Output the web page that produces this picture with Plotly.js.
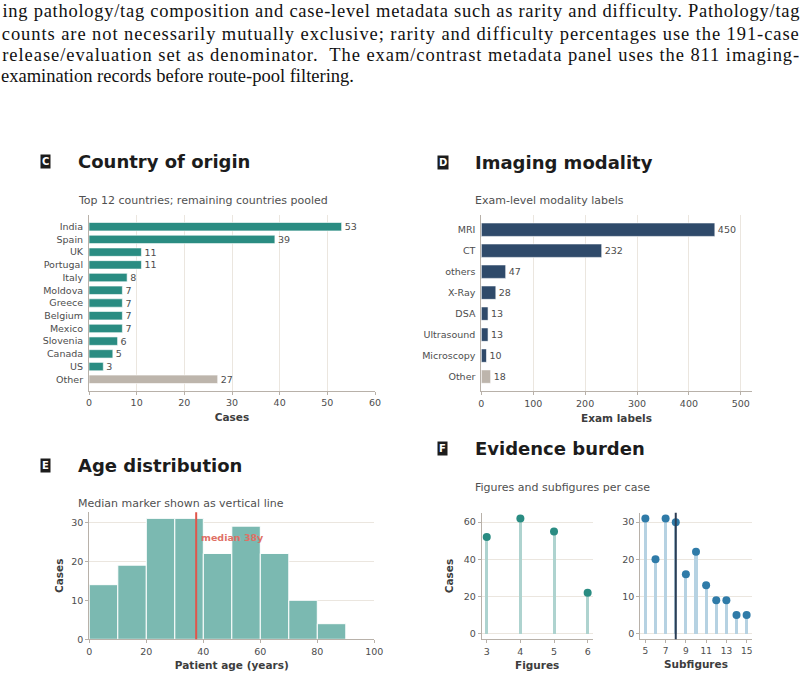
<!DOCTYPE html>
<html>
<head>
<meta charset="utf-8">
<script src="https://cdn.plot.ly/plotly-3.0.1.min.js"></script>
<style>
  html, body { margin: 0; padding: 0; background: #ffffff; }
  #fig { width: 807px; height: 676px; }
</style>
</head>
<body>
<div id="fig"></div>
<script>
// ---- Data -------------------------------------------------------------
const countryNames = ['India', 'Spain', 'UK', 'Portugal', 'Italy', 'Moldova', 'Greece',
                      'Belgium', 'Mexico', 'Slovenia', 'Canada', 'US', 'Other'];
const countryCases = [53, 39, 11, 11, 8, 7, 7, 7, 7, 6, 5, 3, 27];

const modalityNames = ['MRI', 'CT', 'others', 'X-Ray', 'DSA', 'Ultrasound', 'Microscopy', 'Other'];
const modalityCounts = [450, 232, 47, 28, 13, 13, 10, 18];

const ageBinStarts = [0, 10, 20, 30, 40, 50, 60, 70, 80];
const ageBinCounts = [14, 19, 31, 31, 22, 29, 22, 10, 4];
const ageBinWidth = 10;
const medianAge = 37.5;

const figuresPerCase = [3, 4, 5, 6];
const figuresCases = [52, 62, 55, 22];

const subfiguresPerCase = [5, 6, 7, 8, 9, 10, 11, 12, 13, 14, 15];
const subfiguresCases = [31, 20, 31, 30, 16, 22, 13, 9, 9, 5, 5];
const medianSubfigures = 8;

const captionLines = [
  'ing pathology/tag composition and case-level metadata such as rarity and difficulty. Pathology/tag',
  'counts are not necessarily mutually exclusive; rarity and difficulty percentages use the 191-case',
  'release/evaluation set as denominator.  The exam/contrast metadata panel uses the 811 imaging-',
  'examination records before route-pool filtering.'
];
// full-width (justified) lines of the caption paragraph
const justifiedLines = [true, true, true, false];

// ---- Styling ------------------------------------------------------------
const W = 807, H = 676;
const px = x => x / W;
const py = y => 1 - y / H;

const SANS = 'DejaVu Sans, Verdana, sans-serif';
const TEAL = '#2a8c82';
const NAVY = '#2f4a6a';
const POOLED = '#bdb5ac';
const GRID = '#ebe6df';
const SPINE = '#b8b1a9';
const TICK = { family: SANS, size: 9.5, color: '#4d4d4d' };
const AXTITLE = { family: SANS, size: 10.5, color: '#3d3d3d' };

// caption block: left edge and justified line width
const CAP_LEFT = 2, CAP_WIDTH = 797;

function axis(opts) {
  return Object.assign({
    showline: true, linecolor: SPINE, linewidth: 1,
    ticks: 'outside', ticklen: 3, tickcolor: SPINE,
    tickfont: TICK, zeroline: false, showgrid: true, gridcolor: GRID, gridwidth: 1,
    fixedrange: true
  }, opts);
}

// ---- Traces -------------------------------------------------------------
const traces = [];

// C: country of origin
traces.push({
  type: 'bar', orientation: 'h',
  x: countryCases, y: countryNames,
  xaxis: 'x', yaxis: 'y',
  width: 0.66,
  marker: {
    color: countryNames.map(n => n === 'Other' ? POOLED : TEAL),
    line: { color: '#ffffff', width: 0.6 }
  },
  text: countryCases.map(String), textposition: 'outside', constraintext: 'none',
  textfont: { family: SANS, size: 9.5, color: '#4d4d4d' },
  cliponaxis: false, hoverinfo: 'skip'
});

// D: imaging modality
traces.push({
  type: 'bar', orientation: 'h',
  x: modalityCounts, y: modalityNames,
  xaxis: 'x2', yaxis: 'y2',
  width: 0.64,
  marker: {
    color: modalityNames.map(n => n === 'Other' ? POOLED : NAVY),
    line: { color: '#ffffff', width: 0.6 }
  },
  text: modalityCounts.map(String), textposition: 'outside', constraintext: 'none',
  textfont: { family: SANS, size: 9.5, color: '#4d4d4d' },
  cliponaxis: false, hoverinfo: 'skip'
});

// E: age histogram (bars aligned to bin starts)
traces.push({
  type: 'bar',
  x: ageBinStarts, y: ageBinCounts,
  offset: 0, width: ageBinWidth,
  xaxis: 'x3', yaxis: 'y3',
  marker: { color: '#7bb9b1', line: { color: '#ffffff', width: 1 } },
  hoverinfo: 'skip'
});

// F: figures per case (lollipop)
traces.push({
  type: 'bar', x: figuresPerCase, y: figuresCases, width: 0.09,
  xaxis: 'x4', yaxis: 'y4',
  marker: { color: '#aed3cf' }, hoverinfo: 'skip'
});
traces.push({
  type: 'scatter', mode: 'markers', x: figuresPerCase, y: figuresCases,
  xaxis: 'x4', yaxis: 'y4',
  marker: { color: TEAL, size: 8 }, cliponaxis: false, hoverinfo: 'skip'
});

// F: subfigures per case (lollipop)
traces.push({
  type: 'bar', x: subfiguresPerCase, y: subfiguresCases, width: 0.3,
  xaxis: 'x5', yaxis: 'y5',
  marker: { color: '#b6d2e2' }, hoverinfo: 'skip'
});
traces.push({
  type: 'scatter', mode: 'markers', x: subfiguresPerCase, y: subfiguresCases,
  xaxis: 'x5', yaxis: 'y5',
  marker: { color: '#2f7ba8', size: 8 }, cliponaxis: false, hoverinfo: 'skip'
});

// ---- Annotations --------------------------------------------------------
const annotations = [];

captionLines.forEach((line, i) => {
  const just = justifiedLines[i];
  annotations.push({
    xref: 'paper', yref: 'paper',
    x: just ? px(CAP_LEFT + CAP_WIDTH / 2) : px(CAP_LEFT - 3),
    y: py([11, 33.5, 55.5, 76][i]),
    xanchor: just ? 'center' : 'left', yanchor: 'middle', showarrow: false, text: line,
    font: { family: 'Liberation Serif, Times New Roman, serif', size: 18.5, color: '#111111' }
  });
});

function panelHeader(letter, title, subtitle, bx, by, sy) {
  annotations.push({
    xref: 'paper', yref: 'paper', x: px(bx), y: py(by),
    xanchor: 'center', yanchor: 'middle', showarrow: false,
    text: '<b>' + letter + '</b>', bgcolor: '#1c1c1c', borderpad: 1,
    font: { family: SANS, size: 10, color: '#ffffff' }
  });
  annotations.push({
    xref: 'paper', yref: 'paper', x: px(bx + 30), y: py(by),
    xanchor: 'left', yanchor: 'middle', showarrow: false,
    text: '<b>' + title + '</b>',
    font: { family: SANS, size: 18, color: '#1c1c1c' }
  });
  annotations.push({
    xref: 'paper', yref: 'paper', x: px(bx + 30.5), y: py(sy),
    xanchor: 'left', yanchor: 'middle', showarrow: false,
    text: subtitle,
    font: { family: SANS, size: 11, color: '#505050' }
  });
}
panelHeader('C', 'Country of origin', 'Top 12 countries; remaining countries pooled', 45.5, 161.5, 200.5);
panelHeader('D', 'Imaging modality', 'Exam-level modality labels', 442.5, 162, 200.5);
panelHeader('E', 'Age distribution', 'Median marker shown as vertical line', 45.5, 465, 503);
panelHeader('F', 'Evidence burden', 'Figures and subfigures per case', 442.5, 448, 487);

annotations.push({
  xref: 'x3', yref: 'y3', x: medianAge + 1, y: 26.2,
  xanchor: 'left', yanchor: 'middle', showarrow: false,
  text: '<b>median ' + Math.round(medianAge) + 'y</b>',
  font: { family: SANS, size: 9.5, color: '#e07065' }
});

// ---- Layout -------------------------------------------------------------
const tickRange = (a, b, s) => { const out = []; for (let v = a; v <= b; v += s) out.push(v); return out; };

const layout = {
  width: W, height: H,
  margin: { l: 0, r: 0, t: 0, b: 0 },
  paper_bgcolor: '#ffffff', plot_bgcolor: '#ffffff',
  showlegend: false, bargap: 0,
  font: { family: SANS },

  xaxis: axis({ domain: [px(89), px(375)], anchor: 'y', range: [0, 60], tickvals: tickRange(0, 60, 10),
                title: { text: '<b>Cases</b>', font: AXTITLE, standoff: 6 } }),
  yaxis: axis({ domain: [py(391), py(215)], anchor: 'x', type: 'category', range: [12.92, -0.92],
                showgrid: false, ticks: '', ticklabelstandoff: 3 }),

  xaxis2: axis({ domain: [px(481.3), px(751.7)], anchor: 'y2', range: [0, 521], tickvals: tickRange(0, 500, 100),
                 title: { text: '<b>Exam labels</b>', font: AXTITLE, standoff: 6 } }),
  yaxis2: axis({ domain: [py(391.3), py(215)], anchor: 'x2', type: 'category', range: [7.7, -0.7],
                 showgrid: false, ticks: '', ticklabelstandoff: 3 }),

  xaxis3: axis({ domain: [px(89.3), px(374.3)], anchor: 'y3', range: [0, 100], tickvals: tickRange(0, 100, 20),
                 showgrid: false, title: { text: '<b>Patient age (years)</b>', font: AXTITLE, standoff: 5 } }),
  yaxis3: axis({ domain: [py(639.3), py(512.3)], anchor: 'x3', range: [0, 32.55], tickvals: [0, 10, 20, 30],
                 title: { text: '<b>Cases</b>', font: AXTITLE, standoff: 5 } }),

  xaxis4: axis({ domain: [px(481.7), px(592.7)], anchor: 'y4', range: [2.85, 6.15], tickvals: figuresPerCase,
                 showgrid: false, title: { text: '<b>Figures</b>', font: AXTITLE, standoff: 5 } }),
  yaxis4: axis({ domain: [py(639.3), py(512.7)], anchor: 'x4', range: [-3.1, 65.1], tickvals: [0, 20, 40, 60],
                 title: { text: '<b>Cases</b>', font: AXTITLE, standoff: 8 } }),

  xaxis5: axis({ domain: [px(640.3), px(751.7)], anchor: 'y5', range: [4.5, 15.5], tickvals: tickRange(5, 15, 2),
                 showgrid: false, tickfont: { family: SANS, size: 9, color: '#4d4d4d' },
                 title: { text: '<b>Subfigures</b>', font: AXTITLE, standoff: 5 } }),
  yaxis5: axis({ domain: [py(639.3), py(512.7)], anchor: 'x5', range: [-1.55, 32.55], tickvals: [0, 10, 20, 30] }),

  shapes: [
    { type: 'line', xref: 'x3', yref: 'y3 domain', x0: medianAge, x1: medianAge, y0: 0, y1: 1,
      line: { color: '#e0564b', width: 2 } },
    { type: 'line', xref: 'x5', yref: 'y5 domain', x0: medianSubfigures, x1: medianSubfigures, y0: 0, y1: 1,
      line: { color: '#2b3d54', width: 2 } }
  ],
  annotations: annotations
};

Plotly.newPlot('fig', traces, layout, { staticPlot: true, displayModeBar: false }).then(gd => {
  // justify the full-width caption lines: stretch word/letter spacing to the block width
  const notes = gd.querySelectorAll('.annotation');
  justifiedLines.forEach((just, i) => {
    if (!just) return;
    const t = notes[i] && notes[i].querySelector('text.annotation-text');
    if (t) {
      t.setAttribute('textLength', CAP_WIDTH);
      t.setAttribute('lengthAdjust', 'spacing');
    }
  });
});
</script>
</body>
</html>
